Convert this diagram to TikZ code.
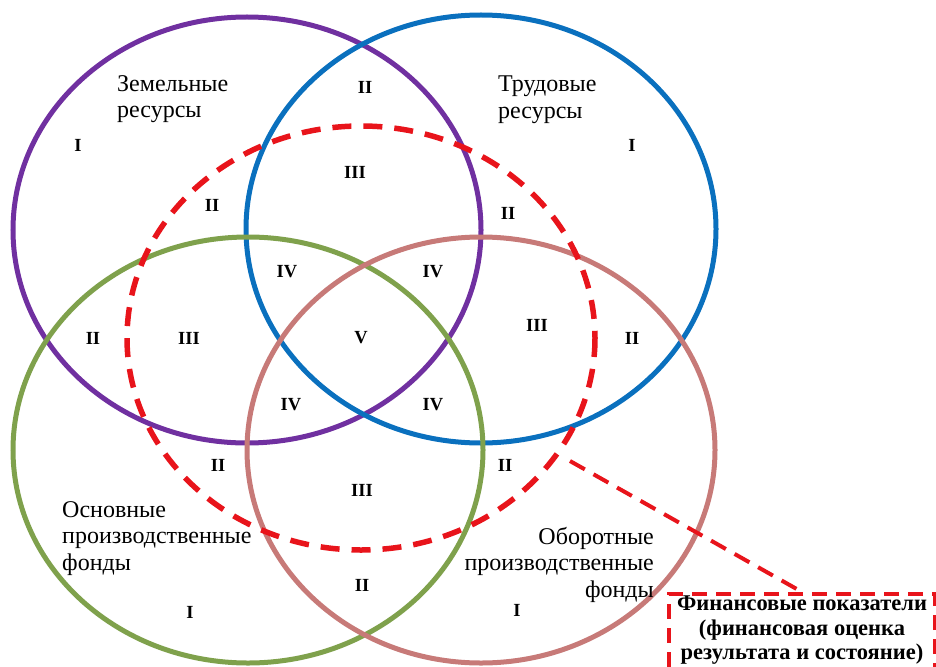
\documentclass[tikz,border=0pt]{standalone}
\usepackage{fontspec}
\setmainfont{Liberation Serif}
\begin{document}
\begin{tikzpicture}[x=1pt,y=-1pt,
  ring/.style={line width=5pt},
  redline/.style={draw=redc,line width=5.5pt,dash pattern=on 19pt off 12pt},
  lbl/.style={font=\fontsize{24}{26.5}\selectfont,align=left,inner sep=0pt},
  num/.style={font=\fontsize{18.5}{20}\selectfont\bfseries,inner sep=1pt},
  boxtext/.style={font=\fontsize{22.5}{24.5}\selectfont\bfseries,align=center,inner sep=0pt}]
\definecolor{purplec}{HTML}{7030A0}
\definecolor{bluec}{HTML}{0A70BE}
\definecolor{greenc}{HTML}{7FA14C}
\definecolor{pinkc}{HTML}{C77A78}
\definecolor{redc}{HTML}{E8141B}
\useasboundingbox (0,0) rectangle (936,666);
\clip (0,0) rectangle (936,666);
% circles
\draw[ring,draw=purplec] (247,230) ellipse [x radius=234,y radius=213];
\draw[ring,draw=bluec] (481,229) ellipse [x radius=235,y radius=214];
\draw[ring,draw=greenc] (248,450) ellipse [x radius=235,y radius=213];
\draw[ring,draw=pinkc] (481,450) ellipse [x radius=234,y radius=213];
% dashed financial ellipse
\draw[redline] (361,338) ellipse [x radius=234,y radius=212];
% box
\node[draw=redc,line width=4pt,dash pattern=on 15pt off 9pt,
      minimum width=266pt,minimum height=82pt,anchor=north west,inner sep=0pt] (box) at (667,592) {};
\node[boxtext,anchor=north] (boxt) at (802,596) {Финансовые показатели\\(финансовая оценка\\результата и состояние)};
\coordinate (start) at (570,461);
\draw[redline,dash pattern=on 17pt off 10pt,line width=4pt] (start) -- (box.north);
% labels
\node[lbl,anchor=north west] (zem) at (117,75) {Земельные\\ресурсы};
\node[lbl,anchor=north west] (trud) at (498,76) {Трудовые\\ресурсы};
\node[lbl,anchor=north west] (osn) at (62,501) {Основные\\производственные\\фонды};
\node[lbl,anchor=north east,align=right] (obor) at (654,527) {Оборотные\\производственные\\фонды};
% numerals
\node[num] (n1) at (78,145) {I};
\node[num] (n2) at (365,87) {II};
\node[num] (n3) at (632,145) {I};
\node[num] (n4) at (355,172) {III};
\node[num] (n5) at (212,205) {II};
\node[num] (n6) at (508,213) {II};
\node[num] (n7) at (287,272) {IV};
\node[num] (n8) at (433,272) {IV};
\node[num] (n9) at (93,338) {II};
\node[num] (n10) at (189,338) {III};
\node[num] (n11) at (361,338) {V};
\node[num] (n12) at (537,325) {III};
\node[num] (n13) at (632,338) {II};
\node[num] (n14) at (291,405) {IV};
\node[num] (n15) at (433,405) {IV};
\node[num] (n16) at (218,465) {II};
\node[num] (n17) at (505,465) {II};
\node[num] (n18) at (362,490) {III};
\node[num] (n19) at (362,585) {II};
\node[num] (n20) at (190,612) {I};
\node[num] (n21) at (517,610) {I};
\end{tikzpicture}
\end{document}
